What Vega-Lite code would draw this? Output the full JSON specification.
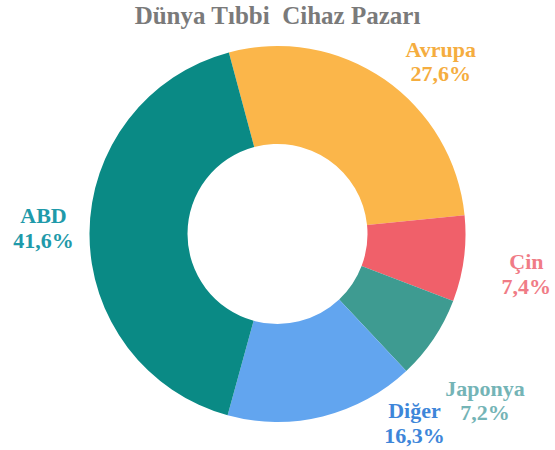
{
  "$schema": "https://vega.github.io/schema/vega-lite/v6.json",
  "width": 555,
  "height": 420,
  "autosize": {"type": "none"},
  "padding": {"top": 24, "left": 0, "right": 0, "bottom": 6},
  "background": "white",
  "title": {"text": "Dünya Tıbbi\u00a0 Cihaz Pazarı", "font": "Liberation Serif", "fontSize": 25, "fontWeight": "bold", "color": "#7a7a7a", "offset": 1, "dy": 6, "anchor": "middle"},
  "data": {"values": [
    {"name": "Avrupa", "value": 27.6, "ord": 1, "label": "Avrupa\n27,6%"},
    {"name": "Çin", "value": 7.4, "ord": 2, "label": "Çin\n7,4%"},
    {"name": "Japonya", "value": 7.2, "ord": 3, "label": "Japonya\n7,2%"},
    {"name": "Diğer", "value": 16.3, "ord": 4, "label": "Diğer\n16,3%"},
    {"name": "ABD", "value": 41.6, "ord": 5, "label": "ABD\n41,6%"}
  ]},
  "transform": [
    {"stack": "value", "groupby": [], "sort": [{"field": "ord", "order": "ascending"}], "as": ["v0", "v1"]},
    {"calculate": "(datum.v0 + datum.v1) / 2", "as": "vm"}
  ],
  "layer": [
    {
      "mark": {"type": "arc", "innerRadius": 90, "outerRadius": 188},
      "encoding": {
        "theta": {"field": "v0", "type": "quantitative", "scale": {"domain": [0, 100.1], "range": [-0.2618, 6.0214]}},
        "theta2": {"field": "v1"},
        "color": {"field": "name", "type": "nominal", "legend": null,
          "scale": {"domain": ["Avrupa", "Çin", "Japonya", "Diğer", "ABD"], "range": ["#FBB64A", "#F0606A", "#3E9B91", "#62A5EF", "#0A8A85"]}},
        "order": {"field": "ord"}
      }
    },
    {
      "transform": [{"filter": "datum.name === 'Avrupa'"}],
      "mark": {"type": "text", "radius": 245, "font": "Liberation Serif", "fontSize": 22, "fontWeight": "bold", "lineBreak": "\n", "lineHeight": 24, "align": "center", "baseline": "middle", "dx": 24, "dy": 18, "color": "#F5AD3F"},
      "encoding": {"theta": {"field": "vm", "type": "quantitative", "scale": {"domain": [0, 100.1], "range": [-0.2618, 6.0214]}}, "text": {"field": "label"}}
    },
    {
      "transform": [{"filter": "datum.name === 'Çin'"}],
      "mark": {"type": "text", "radius": 245, "font": "Liberation Serif", "fontSize": 22, "fontWeight": "bold", "lineBreak": "\n", "lineHeight": 25, "align": "center", "baseline": "middle", "dx": 6, "dy": -4, "color": "#F07C86"},
      "encoding": {"theta": {"field": "vm", "type": "quantitative"}, "text": {"field": "label"}}
    },
    {
      "transform": [{"filter": "datum.name === 'Japonya'"}],
      "mark": {"type": "text", "radius": 245, "font": "Liberation Serif", "fontSize": 22, "fontWeight": "bold", "lineBreak": "\n", "lineHeight": 24, "align": "center", "baseline": "middle", "dx": 4, "dy": 19, "color": "#74B4B6"},
      "encoding": {"theta": {"field": "vm", "type": "quantitative"}, "text": {"field": "label"}}
    },
    {
      "transform": [{"filter": "datum.name === 'Diğer'"}],
      "mark": {"type": "text", "radius": 245, "font": "Liberation Serif", "fontSize": 22, "fontWeight": "bold", "lineBreak": "\n", "lineHeight": 25, "align": "center", "baseline": "middle", "dx": 78, "dy": -61, "color": "#3E86D9"},
      "encoding": {"theta": {"field": "vm", "type": "quantitative"}, "text": {"field": "label"}}
    },
    {
      "transform": [{"filter": "datum.name === 'ABD'"}],
      "mark": {"type": "text", "radius": 245, "font": "Liberation Serif", "fontSize": 22, "fontWeight": "bold", "lineBreak": "\n", "lineHeight": 25, "align": "center", "baseline": "middle", "dx": 11, "dy": -17, "color": "#1F9AAA"},
      "encoding": {"theta": {"field": "vm", "type": "quantitative"}, "text": {"field": "label"}}
    }
  ],
  "config": {"view": {"stroke": null}}
}
